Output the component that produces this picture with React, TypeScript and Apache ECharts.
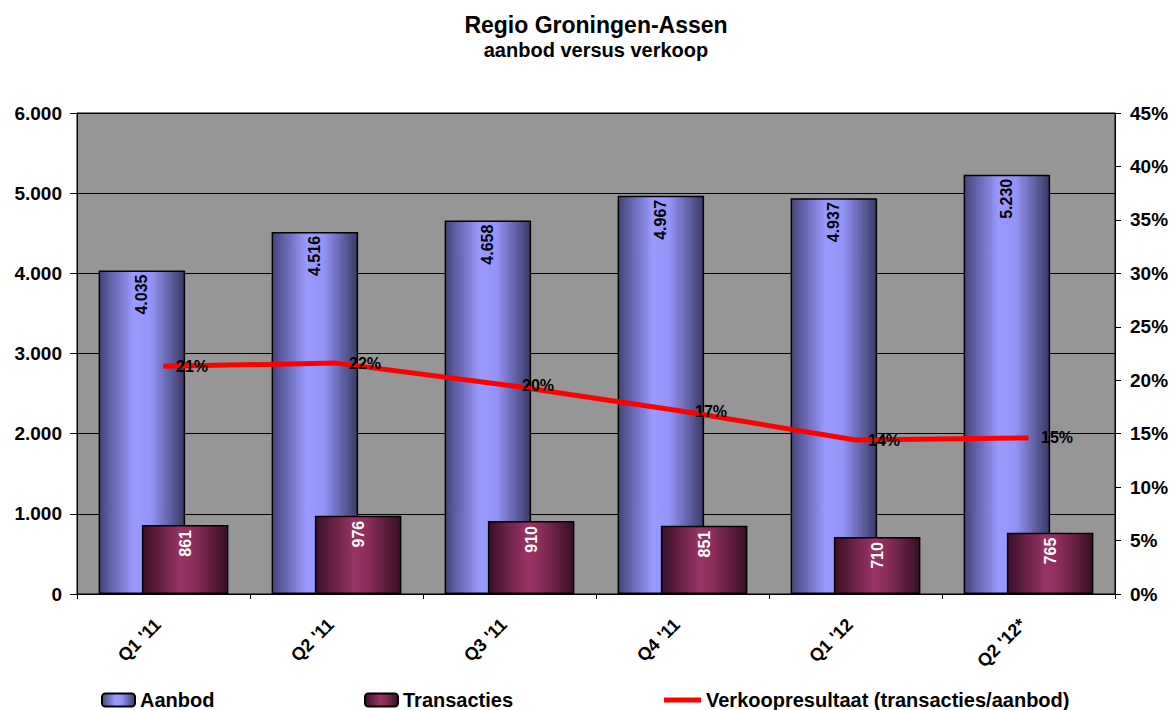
import React, { useEffect, useRef } from "react";
import * as echarts from "echarts";

const categories = ["Q1 '11", "Q2 '11", "Q3 '11", "Q4 '11", "Q1 '12", "Q2 '12*"];
const aanbod = [4035, 4516, 4658, 4967, 4937, 5230];
const transacties = [861, 976, 910, 851, 710, 765];
const verkoopPct = [21.3, 21.6, 19.5, 17.1, 14.4, 14.6];

const FONT = "'Liberation Sans', Arial, sans-serif";

const fmtThousands = (v: number) => {
  if (v >= 1000) {
    const t = Math.floor(v / 1000);
    const r = Math.round(v % 1000);
    return `${t}.${String(r).padStart(3, "0")}`;
  }
  return String(v);
};

const grad = (stops: [number, string][]) =>
  new echarts.graphic.LinearGradient(
    0, 0, 1, 0,
    stops.map(([offset, color]) => ({ offset, color }))
  );

export default function App() {
  const ref = useRef<HTMLDivElement>(null);

  useEffect(() => {
    if (!ref.current) return;
    const chart = echarts.init(ref.current, undefined, { renderer: "svg" });
    const aanbodColor = grad([
      [0, "#44447a"],
      [0.4, "#9999ff"],
      [0.6, "#9494f8"],
      [1, "#3a3a66"],
    ]);
    const transColor = grad([
      [0, "#3a1026"],
      [0.45, "#993366"],
      [0.6, "#8c2e5c"],
      [1, "#380f24"],
    ]);
    const legendText = {
      fontFamily: FONT,
      fontWeight: "bold" as const,
      fontSize: 20,
      color: "#000",
    };
    chart.setOption({
      animation: false,
      backgroundColor: "#ffffff",
      textStyle: { fontFamily: FONT },
      title: [
        {
          text: "Regio Groningen-Assen",
          left: 591,
          top: 8,
          textAlign: "center",
          textStyle: { fontFamily: FONT, fontWeight: "bold", fontSize: 23, color: "#000" },
        },
        {
          text: "aanbod versus verkoop",
          left: 591,
          top: 35,
          textAlign: "center",
          textStyle: { fontFamily: FONT, fontWeight: "bold", fontSize: 20, color: "#000" },
        },
      ],
      legend: [
        {
          data: ["Aanbod"],
          left: 101,
          top: 690,
          padding: 0,
          itemWidth: 33,
          itemHeight: 13,
          itemGap: 5,
          textStyle: legendText,
        },
        {
          data: ["Transacties"],
          left: 364,
          top: 690,
          padding: 0,
          itemWidth: 33,
          itemHeight: 13,
          textStyle: legendText,
        },
        {
          data: [{ name: "Verkoopresultaat (transacties/aanbod)", icon: "rect" }],
          left: 664,
          top: 690,
          padding: 0,
          itemWidth: 37,
          itemHeight: 5,
          textStyle: legendText,
        },
      ],
      grid: {
        left: 77,
        right: 57,
        top: 113,
        bottom: 116,
        show: true,
        backgroundColor: "#969696",
        borderColor: "#000",
        borderWidth: 1,
      },
      xAxis: {
        type: "category",
        data: categories,
        axisLine: { show: true, lineStyle: { color: "#000", width: 1 } },
        axisTick: { show: true, length: 5, interval: 0, lineStyle: { color: "#000" } },
        axisLabel: {
          interval: 0,
          rotate: 45,
          margin: 22,
          padding: [0, 8, 0, 0],
          fontFamily: FONT,
          fontWeight: "bold",
          fontSize: 18,
          color: "#000",
        },
      },
      yAxis: [
        {
          type: "value",
          min: 0,
          max: 6000,
          interval: 1000,
          axisLine: { show: true, lineStyle: { color: "#000" } },
          axisTick: { show: true, length: 7, lineStyle: { color: "#000" } },
          splitLine: { show: true, lineStyle: { color: "#000", width: 1 } },
          axisLabel: {
            margin: 15,
            fontFamily: FONT,
            fontWeight: "bold",
            fontSize: 19,
            color: "#000",
            formatter: (v: number) => fmtThousands(v),
          },
        },
        {
          type: "value",
          min: 0,
          max: 45,
          interval: 5,
          position: "right",
          axisLine: { show: true, lineStyle: { color: "#000" } },
          axisTick: { show: true, length: 6, lineStyle: { color: "#000" } },
          splitLine: { show: false },
          axisLabel: {
            margin: 15,
            fontFamily: FONT,
            fontWeight: "bold",
            fontSize: 19,
            color: "#000",
            formatter: "{value}%",
          },
        },
      ],
      series: [
        {
          name: "Aanbod",
          type: "bar",
          data: aanbod,
          barWidth: "50%",
          barGap: "-50%",
          itemStyle: { color: aanbodColor, borderColor: "#000", borderWidth: 1.5 },
          label: {
            show: true,
            position: "insideTop",
            rotate: 90,
            align: "right",
            verticalAlign: "middle",
            distance: 4,
            fontFamily: FONT,
            fontWeight: "bold",
            fontSize: 16,
            color: "#000",
            formatter: (p: any) => fmtThousands(p.value),
          },
        },
        {
          name: "Transacties",
          type: "bar",
          data: transacties,
          barWidth: "50%",
          barGap: "-50%",
          itemStyle: { color: transColor, borderColor: "#000", borderWidth: 1.5 },
          label: {
            show: true,
            position: "insideTop",
            rotate: 90,
            align: "right",
            verticalAlign: "middle",
            distance: 5,
            fontFamily: FONT,
            fontWeight: "bold",
            fontSize: 16,
            color: "#fff",
            formatter: (p: any) => fmtThousands(p.value),
          },
        },
        {
          name: "Verkoopresultaat (transacties/aanbod)",
          type: "line",
          yAxisIndex: 1,
          data: verkoopPct,
          symbol: "circle",
          symbolSize: 1,
          showSymbol: true,
          lineStyle: { color: "#ff0000", width: 5 },
          itemStyle: { color: "#ff0000" },
          z: 5,
          label: {
            show: true,
            position: "right",
            distance: 12,
            fontFamily: FONT,
            fontWeight: "bold",
            fontSize: 16,
            color: "#000",
            formatter: (p: any) => `${Math.round(p.value)}%`,
          },
        },
      ],
    });
    return () => chart.dispose();
  }, []);

  return (
    <div
      ref={ref}
      style={{ position: "absolute", left: 0, top: 0, width: 1172, height: 710 }}
    />
  );
}
